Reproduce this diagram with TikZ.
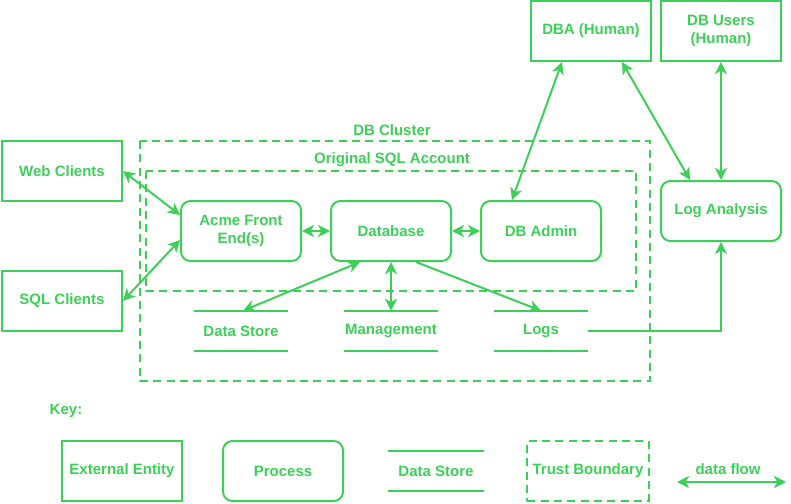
\documentclass[tikz,border=0pt]{standalone}
\usepackage{fontspec}
\setmainfont{Liberation Sans}
\usetikzlibrary{arrows.meta,calc}
\definecolor{gg}{RGB}{61,208,88}
\tikzset{
  every node/.style={font=\fontsize{11.25pt}{13.5pt}\selectfont\bfseries, text=gg, align=center},
  ent/.style={draw=gg, line width=1.5pt, minimum width=90pt, minimum height=45pt, inner sep=0pt},
  proc/.style={ent, rounded corners=7pt},
  store/.style={minimum width=70.5pt, minimum height=30pt, inner sep=0pt},
  bound/.style={draw=gg, line width=1.5pt, dashed, dash pattern=on 6pt off 4pt},
  flow/.style={draw=gg, line width=1.5pt, {Stealth[length=9pt,width=9pt,inset=2.5pt]}-{Stealth[length=9pt,width=9pt,inset=2.5pt]}},
  oneflow/.style={draw=gg, line width=1.5pt, -{Stealth[length=9pt,width=9pt,inset=2.5pt]}},
  sline/.style={draw=gg, line width=1.5pt},
}
\begin{document}
\begin{tikzpicture}[x=0.75pt, y=-0.75pt]
\useasboundingbox (0,0) rectangle (791,503);
% trust boundaries
\draw[bound] (140,141) rectangle (650,381);
\draw[bound] (146,171) rectangle (636,291);
\node (lcluster) at (392,130) {DB Cluster};
\node (laccount) at (392,160) {Original SQL Account};
% external entities
\node[ent] (web) at (62,171) {Web Clients};
\node[ent] (sql) at (62,301) {SQL Clients};
\node[ent] (dba) at (591,31) {DBA (Human)};
\node[ent] (dbu) at (721,31) {DB Users\\(Human)};
% processes
\node[proc] (acme) at (241,231) {Acme Front\\End(s)};
\node[proc] (db) at (391,231) {Database};
\node[proc] (adm) at (541,231) {DB Admin};
\node[proc] (loga) at (721,211) {Log Analysis};
% data stores
\node[store] (ds) at (241,331) {Data Store};
\node[store] (mg) at (391,331) {Management};
\node[store] (logs) at (541,331) {Logs};
\foreach \s in {ds,mg,logs}{
  \draw[sline] (\s.north west) -- (\s.north east);
  \draw[sline] (\s.south west) -- (\s.south east);
}
% flows
\draw[flow] (web.east) -- ($(acme.west)+(0,-16)$);
\draw[flow] (sql.east) -- ($(acme.west)+(0,9)$);
\draw[flow] (acme) -- (db);
\draw[flow] (db) -- (adm);
\draw[flow] ($(db.south)+(-31,0)$) -- ($(ds.north)+(2,0)$);
\draw[flow] (db.south) -- (mg.north);
\draw[oneflow] ($(db.south)+(25,0)$) -- (logs.north);
\draw[flow] ($(adm.north)+(-29,0)$) -- ($(dba.south)+(-29,0)$);
\draw[flow] ($(dba.south)+(31,0)$) -- ($(loga.north)+(-31,0)$);
\draw[flow] (dbu.south) -- (loga.north);
\draw[oneflow] (logs.east) -| (loga.south);
% key
\node (key) at (66,411) {Key:};
\node[ent] (kext) at (122,471) {External Entity};
\node[proc] (kproc) at (283,471) {Process};
\node[store, minimum width=71pt] (kds) at (436,471) {Data Store};
\draw[sline] (kds.north west) -- (kds.north east);
\draw[sline] (kds.south west) -- (kds.south east);
\node[draw=gg, line width=1.5pt, dashed, dash pattern=on 6pt off 4pt, minimum width=91pt, minimum height=45pt, inner sep=0pt] (ktb) at (588,471) {Trust Boundary};
\coordinate (kfa) at (677,482);
\coordinate (kfb) at (786,482);
\draw[flow] (kfa) -- (kfb);
\node (kfl) at (728,469) {data flow};
\end{tikzpicture}
\end{document}
